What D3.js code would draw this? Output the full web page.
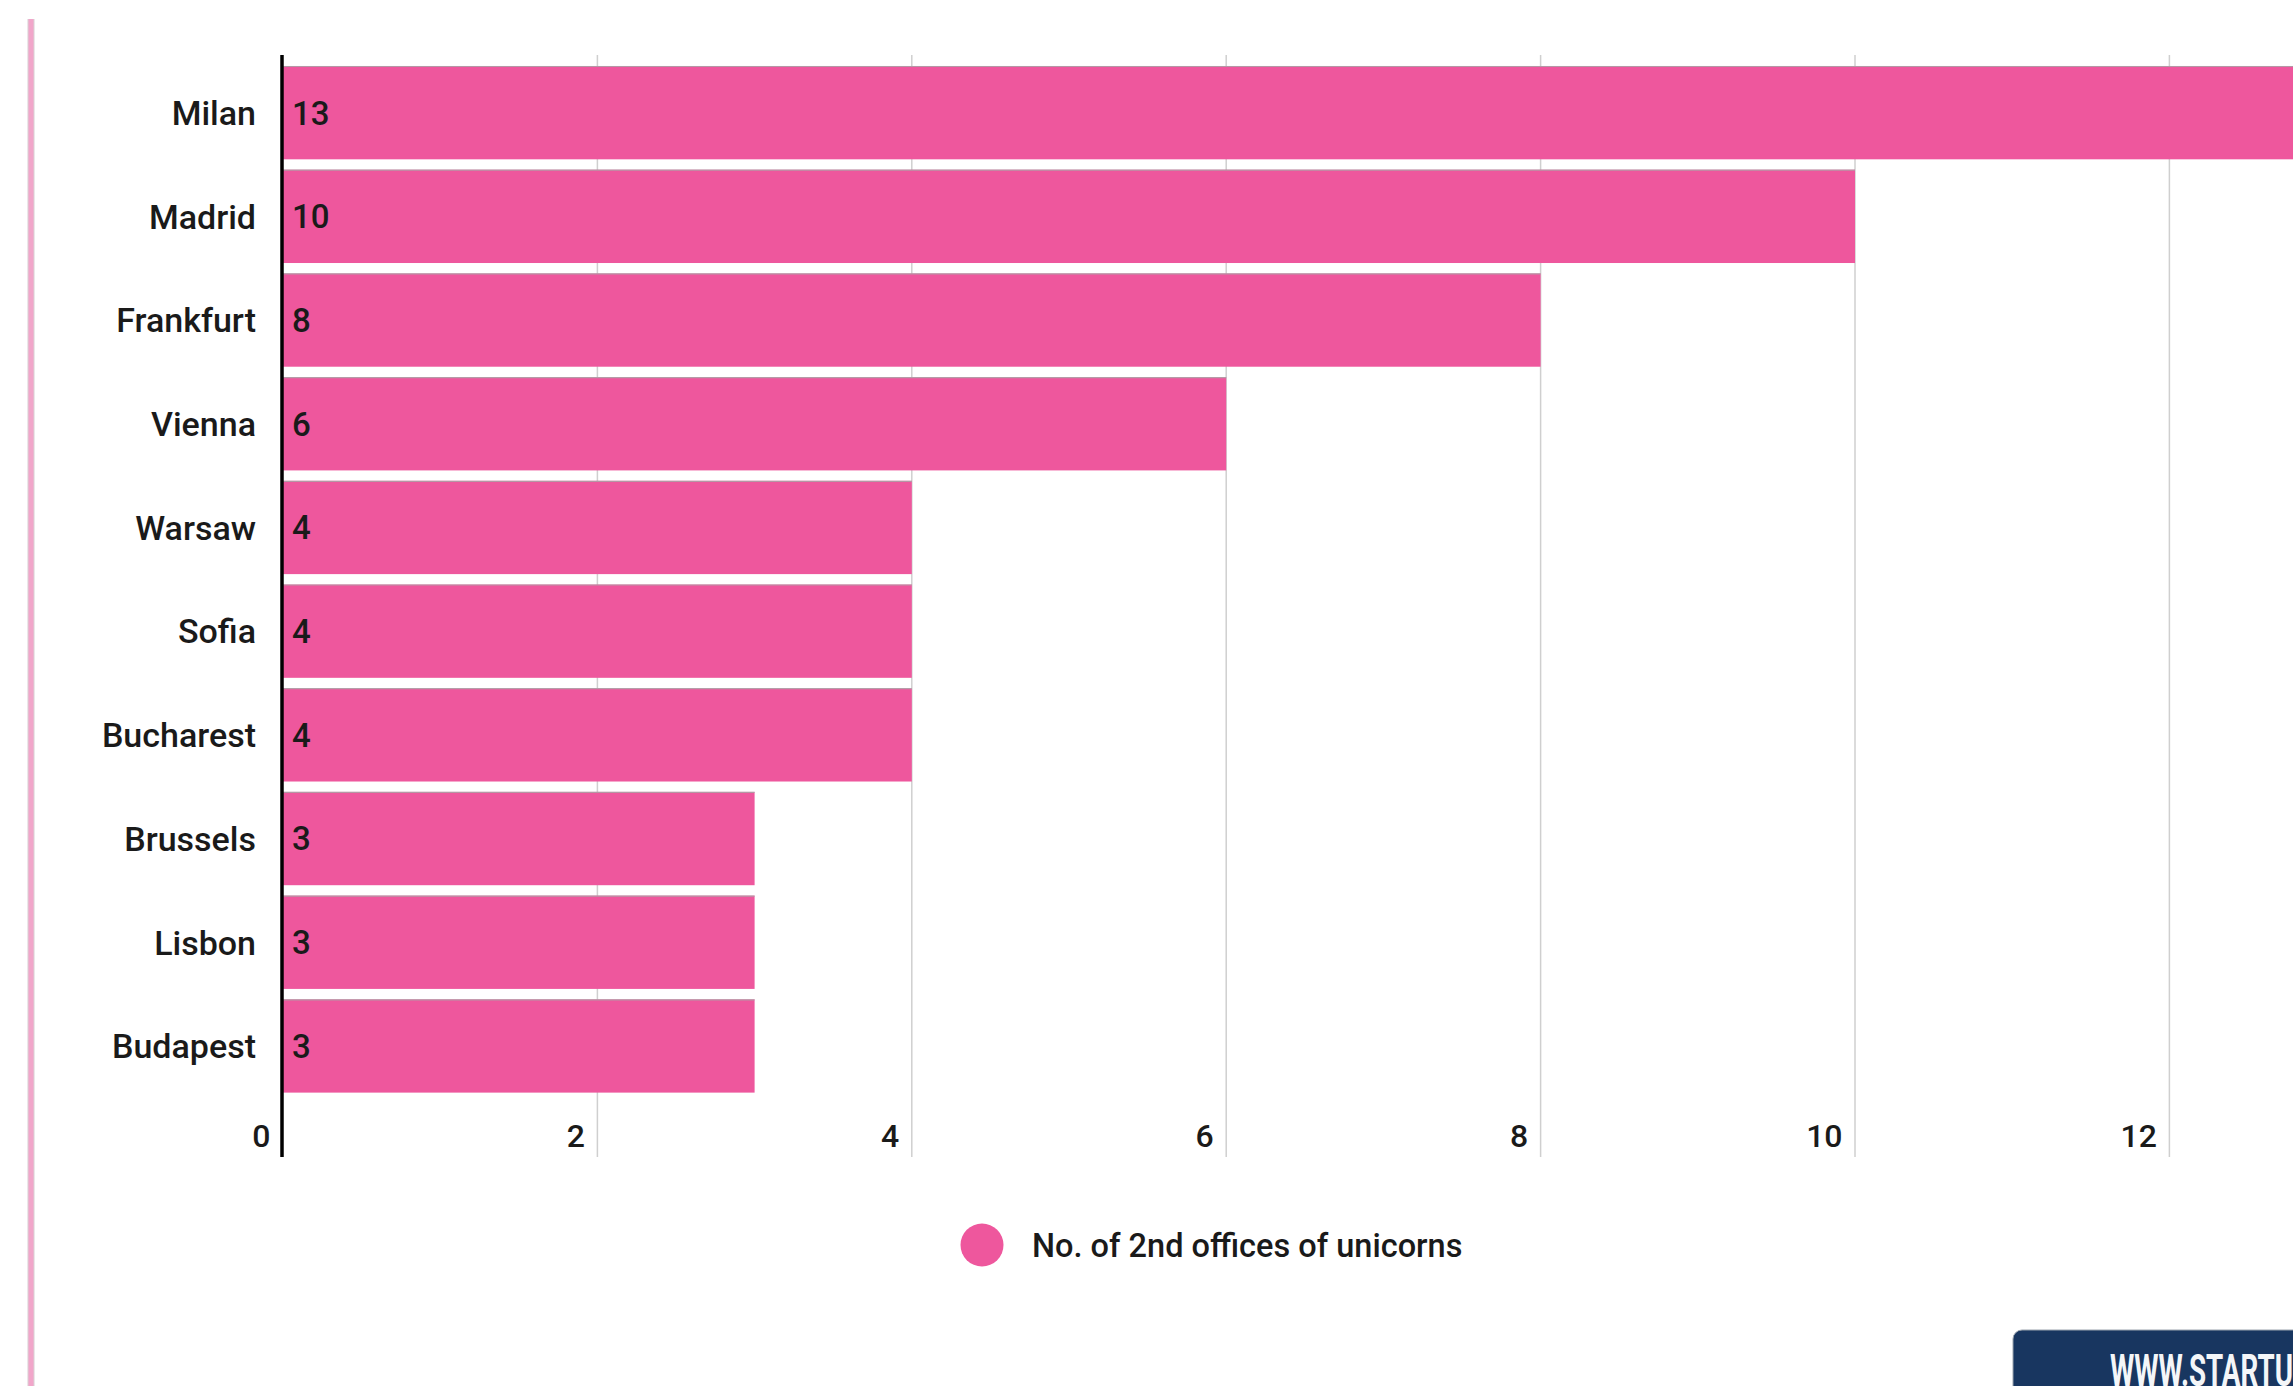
<!DOCTYPE html>
<html>
<head>
<meta charset="utf-8">
<script src="https://cdn.jsdelivr.net/npm/d3@7"></script>
<style>
  html, body { margin: 0; padding: 0; background: #fff; overflow: hidden; }
  svg { display: block; }
  text { font-family: Roboto, "Noto Sans", sans-serif; }
</style>
</head>
<body>
<svg id="chart" width="2293" height="1386"></svg>
<script>
const categories = ["Milan", "Madrid", "Frankfurt", "Vienna", "Warsaw", "Sofia", "Bucharest", "Brussels", "Lisbon", "Budapest"];
const values = [13, 10, 8, 6, 4, 4, 4, 3, 3, 3];
const xTicks = [0, 2, 4, 6, 8, 10, 12];
const seriesName = "No. of 2nd offices of unicorns";
const sourceText = "WWW.STARTUPBLINK.COM";

const W = 2293, H = 1386;
const svg = d3.select("#chart");
const barColor = "#ee579d";
const textColor = "#1a1a1a";

// left pink border
svg.append("rect").attr("x", 27.5).attr("y", 19).attr("width", 7).attr("height", H).attr("fill", "#d8d0d4");
svg.append("rect").attr("x", 28.5).attr("y", 19).attr("width", 5).attr("height", H).attr("fill", "#f1a6ca");

const x = d3.scaleLinear().domain([0, 14]).range([283, 283 + 14 * 157.2]);
const y = d3.scaleBand().domain(categories).range([60.8, 1097.8]).paddingInner(0.1).paddingOuter(0.05);

const gridTop = 55, gridBottom = 1157;

// gridlines
svg.append("g").selectAll("line").data(xTicks.filter(d => d > 0)).join("line")
  .attr("x1", d => x(d)).attr("x2", d => x(d))
  .attr("y1", gridTop).attr("y2", gridBottom)
  .attr("stroke", "#cfcfcf").attr("stroke-width", 1.5);

// bars
const bars = svg.append("g");
bars.selectAll("rect.bar").data(categories).join("rect")
  .attr("class", "bar")
  .attr("x", x(0))
  .attr("y", d => y(d))
  .attr("width", (d, i) => x(values[i]) - x(0))
  .attr("height", y.bandwidth())
  .attr("fill", barColor);
// faint top edge
bars.selectAll("line.edge").data(categories).join("line")
  .attr("class", "edge")
  .attr("x1", x(0)).attr("x2", (d, i) => x(values[i]))
  .attr("y1", d => y(d) + 0.5).attr("y2", d => y(d) + 0.5)
  .attr("stroke", "#a8a8a8").attr("stroke-width", 1.2).attr("opacity", 0.8);

// value labels
svg.append("g").selectAll("text").data(categories).join("text")
  .attr("x", x(0) + 9)
  .attr("y", d => y(d) + y.bandwidth() / 2)
  .attr("dy", "0.36em")
  .attr("font-size", 33)
  .attr("font-weight", 500)
  .attr("fill", textColor)
  .text((d, i) => values[i]);

// y axis via d3
const yAxis = svg.append("g").attr("transform", `translate(${x(0) - 1},0)`)
  .call(d3.axisLeft(y).tickSize(0).tickPadding(26));
yAxis.select(".domain").remove();
yAxis.selectAll("text").attr("font-size", 34).attr("font-weight", 500).attr("fill", textColor)
  .attr("font-family", "Roboto, sans-serif").attr("dy", "0.36em");

// x axis via d3 (labels only)
const xAxis = svg.append("g").attr("transform", `translate(0,${1135})`)
  .call(d3.axisBottom(x).tickValues(xTicks).tickSize(0).tickFormat(d3.format("d")));
xAxis.select(".domain").remove();
xAxis.selectAll("text")
  .attr("text-anchor", "end")
  .attr("x", -13)
  .attr("y", 0)
  .attr("dy", "0.36em")
  .attr("font-size", 32)
  .attr("font-weight", 500)
  .attr("fill", textColor)
  .attr("font-family", "Roboto, sans-serif");

// baseline axis
svg.append("line").attr("x1", x(0) - 1).attr("x2", x(0) - 1)
  .attr("y1", gridTop).attr("y2", gridBottom)
  .attr("stroke", "#000").attr("stroke-width", 3.5);

// legend
const lg = svg.append("g");
lg.append("circle").attr("cx", 982).attr("cy", 1245).attr("r", 21.5).attr("fill", barColor);
lg.append("text").attr("x", 1032).attr("y", 1245).attr("dy", "0.36em")
  .attr("font-size", 32.5).attr("font-weight", 500).attr("fill", textColor).text(seriesName);

// source badge
const badge = svg.append("g");
badge.append("rect").attr("x", 2013).attr("y", 1330).attr("width", 400).attr("height", 120)
  .attr("rx", 9).attr("fill", "#183660").attr("stroke", "#9aa3ad").attr("stroke-width", 1);
const bt = badge.append("text")
  .attr("font-family", "'DejaVu Sans Condensed', 'DejaVu Sans', sans-serif")
  .attr("font-weight", "bold")
  .attr("font-size", 45)
  .attr("fill", "#f4f6f8")
  .text("WWW.STARTU");
const prefixW = bt.node().getComputedTextLength();
const sx = 183 / prefixW;
bt.text(sourceText).attr("transform", `translate(2110,1386) scale(${sx},1)`);
</script>
</body>
</html>
